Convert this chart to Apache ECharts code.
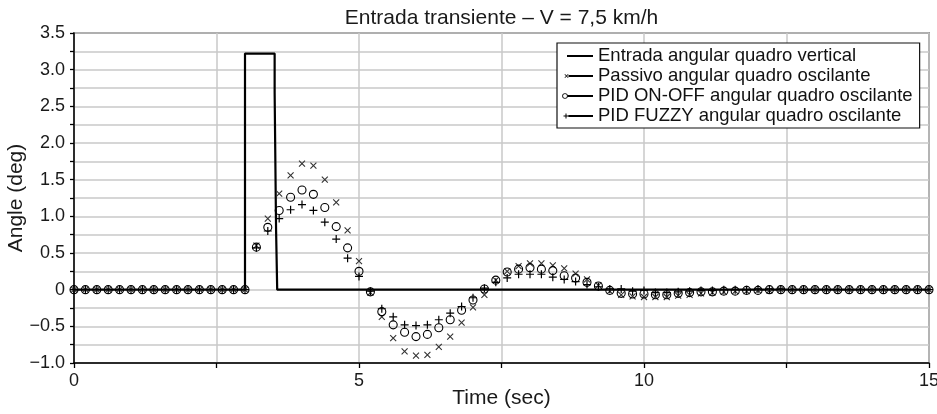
<!DOCTYPE html>
<html>
<head>
<meta charset="utf-8">
<script src="https://cdn.jsdelivr.net/npm/echarts@6/dist/echarts.min.js"></script>
<style>html,body{margin:0;padding:0;background:#fff;}#c{width:937px;height:414px;}</style>
</head>
<body>
<div id="c"></div>
<script>
const titleText = 'Entrada transiente – V = 7,5 km/h';
const xName = 'Time (sec)';
const yName = 'Angle (deg)';
const seriesNames = [
  'Entrada angular quadro vertical',
  'Passivo angular quadro oscilante',
  'PID ON-OFF angular quadro oscilante',
  'PID FUZZY angular quadro oscilante'
];

// Input step (time, value)
const entradaT = [0, 3.0, 3.0, 3.52, 3.52, 3.545, 3.545, 3.565, 3.565, 15];
const entradaV = [0, 0, 3.22, 3.22, 2.69, 2.69, 0.82, 0.82, 0, 0];

// Sample times (s)
const times = [
  0.0, 0.2, 0.4, 0.6, 0.8, 1.0, 1.2, 1.4, 1.6, 1.8,
  2.0, 2.2, 2.4, 2.6, 2.8, 3.0, 3.2, 3.4, 3.6, 3.8,
  4.0, 4.2, 4.4, 4.6, 4.8, 5.0, 5.2, 5.4, 5.6, 5.8,
  6.0, 6.2, 6.4, 6.6, 6.8, 7.0, 7.2, 7.4, 7.6, 7.8,
  8.0, 8.2, 8.4, 8.6, 8.8, 9.0, 9.2, 9.4, 9.6, 9.8,
  10.0, 10.2, 10.4, 10.6, 10.8, 11.0, 11.2, 11.4, 11.6, 11.8,
  12.0, 12.2, 12.4, 12.6, 12.8, 13.0, 13.2, 13.4, 13.6, 13.8,
  14.0, 14.2, 14.4, 14.6, 14.8, 15.0
];

const passivo = [
  0, 0, 0, 0, 0, 0, 0, 0, 0, 0,
  0, 0, 0, 0, 0, 0, 0.60, 0.97, 1.31, 1.56,
  1.72, 1.69, 1.50, 1.19, 0.81, 0.39, -0.04, -0.37, -0.66, -0.84,
  -0.90, -0.89, -0.78, -0.64, -0.45, -0.24, -0.07, 0.13, 0.25, 0.32,
  0.36, 0.36, 0.33, 0.29, 0.22, 0.14, 0.06, -0.02, -0.07, -0.09,
  -0.10, -0.10, -0.10, -0.08, -0.07, -0.05, -0.04, -0.03, -0.02, -0.02,
  -0.01, -0.01, 0.00, 0, 0, 0, 0, 0, 0, 0,
  0, 0, 0, 0, 0, 0
];

const onoff = [
  0, 0, 0, 0, 0, 0, 0, 0, 0, 0,
  0, 0, 0, 0, 0, 0, 0.58, 0.85, 1.08, 1.26,
  1.36, 1.30, 1.12, 0.86, 0.57, 0.25, -0.03, -0.30, -0.48, -0.58,
  -0.64, -0.61, -0.52, -0.41, -0.28, -0.14, 0.01, 0.13, 0.24, 0.28,
  0.30, 0.28, 0.26, 0.19, 0.16, 0.10, 0.05, -0.01, -0.05, -0.06,
  -0.06, -0.07, -0.07, -0.05, -0.04, -0.03, -0.03, -0.02, -0.02, -0.01,
  -0.01, 0.00, 0.00, 0, 0, 0, 0, 0, 0, 0,
  0, 0, 0, 0, 0, 0
];

const fuzzy = [
  0, 0, 0, 0, 0, 0, 0, 0, 0, 0,
  0, 0, 0, 0, 0, 0, 0.57, 0.80, 0.97, 1.09,
  1.16, 1.08, 0.92, 0.69, 0.43, 0.18, -0.02, -0.26, -0.37, -0.48,
  -0.49, -0.48, -0.41, -0.32, -0.23, -0.11, 0.02, 0.10, 0.16, 0.21,
  0.21, 0.21, 0.17, 0.14, 0.11, 0.07, 0.04, 0.01, 0.01, -0.02,
  -0.01, -0.04, -0.04, -0.03, -0.02, -0.01, -0.01, 0.00, 0.00, 0.00,
  0.01, 0.01, 0.01, 0, 0, 0, 0, 0, 0, 0,
  0, 0, 0, 0, 0, 0
];

const FONT = '"Liberation Sans", Arial, sans-serif';
const pair = (xs, ys) => xs.map((x, i) => [x, ys[i]]);

// legend icons (31 x 10 box; tiny corner points fix the bounding box)
const corners = 'M0 0L0.01 0L0.01 0.01Z M31 10L30.99 10L30.99 9.99Z ';
const iconEntrada = 'path://' + corners + 'M5 4.1H31V5.9H5Z';
const iconPassivo = 'path://' + corners +
  'M2.5 3.5L3 3L6.5 6.5L6 7Z M6 3L6.5 3.5L3 7L2.5 6.5Z M6.5 4.1H31V5.9H6.5Z';
const iconOnoff = 'path://' + corners +
  'M0.2 5A2.8 2.8 0 1 1 5.8 5A2.8 2.8 0 1 1 0.2 5Z M1 5A2 2 0 1 0 5 5A2 2 0 1 0 1 5Z M5.8 4.1H31V5.9H5.8Z';
const iconFuzzy = 'path://' + corners +
  'M3.5 2.5H4.5V7.5H3.5Z M1.5 4.5H6.5V5.5H1.5Z M6.5 4.1H31V5.9H6.5Z';
const legendIcons = [iconEntrada, iconPassivo, iconOnoff, iconFuzzy];

const chart = echarts.init(document.getElementById('c'), null, {renderer: 'canvas'});

const yFmt = v => {
  if (Math.abs(v * 2 - Math.round(v * 2)) > 1e-6) return '';
  if (Math.abs(v) < 1e-9) return '0';
  return (v < 0 ? '\u2212' : '') + Math.abs(v).toFixed(1);
};
const xFmt = v => (Math.abs(v / 5 - Math.round(v / 5)) < 1e-6 ? String(Math.round(v)) : '');

chart.setOption({
  animation: false,
  backgroundColor: '#fff',
  textStyle: {fontFamily: FONT},
  title: {
    text: titleText,
    left: 501.5,
    top: 8,
    padding: 0,
    textAlign: 'center',
    textStyle: {fontFamily: FONT, fontSize: 21, fontWeight: 'normal', color: '#1a1a1a'}
  },
  grid: {
    left: 74, right: 8, top: 33, bottom: 51,
    containLabel: false,
    outerBoundsMode: 'none',
    show: true, borderColor: '#333', borderWidth: 1.3, backgroundColor: '#fff'
  },
  legend: {
    orient: 'vertical',
    left: 557, top: 43,
    padding: [3, 7, 2, 5],
    itemGap: 0,
    itemWidth: 31,
    itemHeight: 10,
    backgroundColor: '#fff',
    borderColor: '#111',
    borderWidth: 1.2,
    borderRadius: 0,
    textStyle: {fontFamily: FONT, fontSize: 18.5, lineHeight: 20, color: '#111'},
    data: seriesNames.map((n, i) => ({
      name: n,
      icon: legendIcons[i],
      itemStyle: {color: '#000', opacity: 1, borderWidth: 0, borderColor: 'transparent'}
    }))
  },
  xAxis: {
    type: 'value',
    min: 0, max: 15, interval: 2.5,
    name: xName,
    nameLocation: 'middle',
    nameGap: 25,
    nameMoveOverlap: false,
    nameTextStyle: {fontFamily: FONT, fontSize: 21, color: '#1a1a1a'},
    axisLine: {show: true, onZero: false, lineStyle: {color: '#000', width: 1.5}},
    axisTick: {show: true, inside: false, length: 5, lineStyle: {color: '#000', width: 1.3}},
    axisLabel: {formatter: xFmt, margin: 9, fontFamily: FONT, fontSize: 18, color: '#1a1a1a'},
    splitLine: {show: true, lineStyle: {color: '#c8c8c8', width: 1.5}}
  },
  yAxis: {
    type: 'value',
    min: -1, max: 3.5, interval: 0.25,
    name: yName,
    nameLocation: 'middle',
    nameGap: 47,
    nameMoveOverlap: false,
    nameTextStyle: {fontFamily: FONT, fontSize: 21, color: '#1a1a1a'},
    axisLine: {show: true, onZero: false, lineStyle: {color: '#000', width: 1.5}},
    axisTick: {show: true, inside: false, length: 4, lineStyle: {color: '#000', width: 1.3}},
    axisLabel: {formatter: yFmt, margin: 9, fontFamily: FONT, fontSize: 18, color: '#1a1a1a'},
    splitLine: {show: true, lineStyle: {color: '#c8c8c8', width: 1.5}}
  },
  series: [
    {
      name: seriesNames[0],
      type: 'line',
      data: pair(entradaT, entradaV),
      showSymbol: false,
      symbol: 'none',
      lineStyle: {color: '#000', width: 2.2},
      itemStyle: {color: '#000'},
      z: 2
    },
    {
      name: seriesNames[1],
      type: 'scatter',
      data: pair(times, passivo),
      symbol: 'path://M0 0L10 10M10 0L0 10',
      symbolSize: 6,
      itemStyle: {color: 'none', borderColor: '#333', borderWidth: 1.1, opacity: 1},
      z: 3
    },
    {
      name: seriesNames[2],
      type: 'scatter',
      data: pair(times, onoff),
      symbol: 'circle',
      symbolSize: 8,
      itemStyle: {color: 'none', borderColor: '#000', borderWidth: 1.1, opacity: 1},
      z: 3
    },
    {
      name: seriesNames[3],
      type: 'scatter',
      data: pair(times, fuzzy),
      symbol: 'path://M5 0V10M0 5H10',
      symbolSize: 8,
      itemStyle: {color: 'none', borderColor: '#000', borderWidth: 1.2, opacity: 1},
      z: 3
    }
  ]
});
</script>
</body>
</html>
